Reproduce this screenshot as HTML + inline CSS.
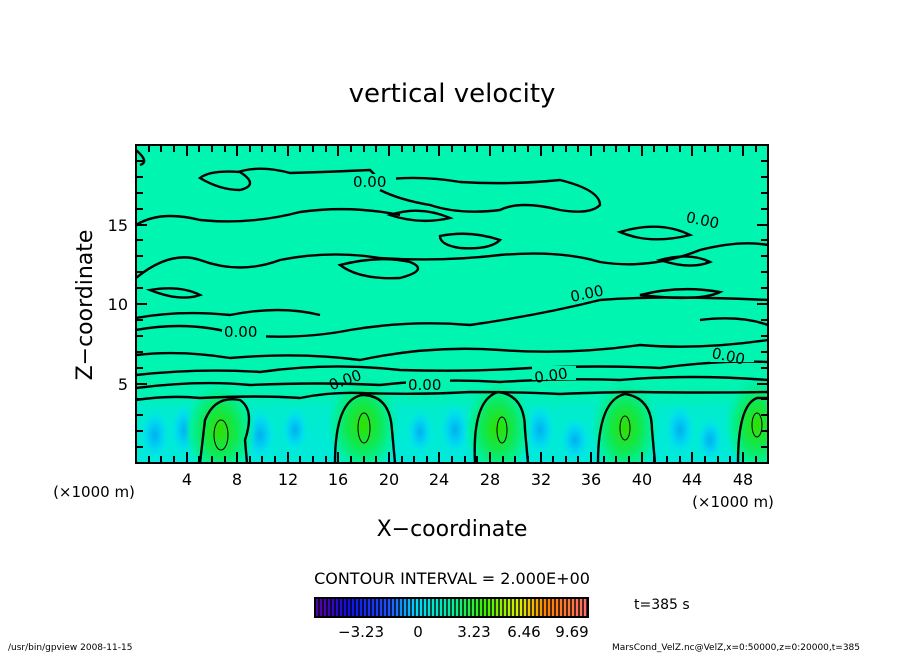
<!DOCTYPE html>
<html><head><style>
body{margin:0;background:#fff;}
svg{display:block;font-family:"DejaVu Sans","Liberation Sans",sans-serif;}
</style></head><body>
<svg width="904" height="654" viewBox="0 0 904 654" xmlns="http://www.w3.org/2000/svg">
<defs>
<radialGradient id="g" cx="50%" cy="50%" r="50%">
<stop offset="0" stop-color="#30e000"/><stop offset="0.45" stop-color="#10e850"/><stop offset="0.8" stop-color="#00f0a0"/><stop offset="1" stop-color="#00f0b0" stop-opacity="0"/>
</radialGradient>
<radialGradient id="b" cx="50%" cy="50%" r="50%">
<stop offset="0" stop-color="#00b0f0"/><stop offset="0.5" stop-color="#00d8f0"/><stop offset="1" stop-color="#00eee0" stop-opacity="0"/>
</radialGradient>
<linearGradient id="band" x1="0" y1="0" x2="0" y2="1">
<stop offset="0" stop-color="#00f0b0" stop-opacity="0"/><stop offset="0.3" stop-color="#00eccc"/><stop offset="1" stop-color="#00eadc"/>
</linearGradient>
<clipPath id="c"><rect x="136" y="145" width="632" height="318"/></clipPath>
</defs>
<text x="452" y="102" font-size="26" text-anchor="middle">vertical velocity</text>
<g clip-path="url(#c)">
<rect x="136" y="145" width="632" height="318" fill="#00f5b0"/>
<rect x="136" y="385" width="632" height="78" fill="url(#band)"/>
<ellipse cx="155" cy="435" rx="16" ry="28" fill="url(#b)"/>
<ellipse cx="185" cy="430" rx="16" ry="28" fill="url(#b)"/>
<ellipse cx="260" cy="435" rx="16" ry="28" fill="url(#b)"/>
<ellipse cx="295" cy="430" rx="14" ry="24" fill="url(#b)"/>
<ellipse cx="420" cy="432" rx="14" ry="24" fill="url(#b)"/>
<ellipse cx="455" cy="430" rx="16" ry="28" fill="url(#b)"/>
<ellipse cx="540" cy="430" rx="16" ry="28" fill="url(#b)"/>
<ellipse cx="575" cy="440" rx="16" ry="24" fill="url(#b)"/>
<ellipse cx="680" cy="430" rx="16" ry="28" fill="url(#b)"/>
<ellipse cx="710" cy="440" rx="14" ry="24" fill="url(#b)"/>
<ellipse cx="220" cy="430" rx="36" ry="50" fill="url(#g)"/>
<ellipse cx="363" cy="425" rx="36" ry="50" fill="url(#g)"/>
<ellipse cx="498" cy="428" rx="34" ry="50" fill="url(#g)"/>
<ellipse cx="625" cy="428" rx="34" ry="50" fill="url(#g)"/>
<ellipse cx="757" cy="425" rx="32" ry="50" fill="url(#g)"/>
<g fill="none" stroke="#000" stroke-width="2.4">
<path d="M200,463 L205,420 Q215,395 240,400 Q255,410 245,440 L247,463"/>
<path d="M335,463 Q335,400 362,395 Q390,395 392,430 L395,463"/>
<path d="M475,463 Q472,400 498,392 Q525,395 525,430 L528,463"/>
<path d="M598,463 Q598,400 625,394 Q652,398 652,430 L655,463"/>
<path d="M738,463 Q738,405 757,398 L768,398"/>
<path d="M136,400 Q170,395 200,398 Q260,395 300,398 Q330,392 360,393 Q420,395 470,392 Q520,392 560,394 Q610,392 640,392 Q700,393 768,392"/>
<path d="M136,388 Q200,380 250,385 Q320,382 380,385 Q440,378 500,382 Q560,378 620,380 Q690,374 768,380"/>
<path d="M136,375 Q200,368 260,372 Q330,362 400,370 Q470,372 530,368 Q600,365 660,368 Q720,360 768,362"/>
<path d="M136,355 Q180,350 230,358 Q300,352 360,360 Q430,345 500,350 Q570,355 640,345 Q700,350 768,340"/>
<path d="M136,330 Q190,320 240,335 Q300,340 350,330 Q410,320 470,325 Q540,315 600,300 Q660,295 768,300"/>
<path d="M136,318 Q180,310 230,315 Q280,305 320,315"/>
<path d="M136,278 Q170,250 200,260 Q240,275 280,260 Q330,250 380,258 Q440,262 500,255 Q560,250 600,262 Q650,270 700,250 Q740,240 768,245"/>
<path d="M136,225 Q160,210 200,220 Q250,225 300,212 Q350,205 400,215"/>
<path d="M136,150 Q150,162 140,165"/>
<path d="M238,172 Q260,165 290,173 Q330,172 370,170 L380,180 Q420,175 460,182 Q510,185 560,180 Q600,190 600,205 Q590,215 560,210 Q520,200 500,210 Q460,215 430,205 Q400,200 380,190"/>
<path d="M200,178 Q210,170 240,172 Q260,185 240,190 Q220,190 200,178Z"/>
<path d="M340,265 Q380,255 410,262 Q430,270 400,278 Q360,280 340,265Z"/>
<path d="M440,236 Q470,230 500,240 Q490,250 460,248 Q440,245 440,236Z"/>
<path d="M660,260 Q690,252 710,262 Q690,270 660,260Z"/>
<path d="M640,295 Q680,285 720,292 Q700,302 640,295Z"/>
<path d="M150,290 Q180,285 200,295 Q180,302 150,290Z"/>
<path d="M390,215 Q420,205 450,218 Q420,225 390,215Z"/>
<path d="M620,232 Q660,220 690,235 Q650,245 620,232Z"/>
<path d="M700,320 Q740,315 768,325"/>
</g>
<g stroke="#000" stroke-width="1" fill="none">
<ellipse cx="221" cy="435" rx="7" ry="15"/>
<ellipse cx="364" cy="428" rx="6" ry="15"/>
<ellipse cx="502" cy="430" rx="5" ry="13"/>
<ellipse cx="625" cy="428" rx="5" ry="12"/>
<ellipse cx="757" cy="425" rx="5" ry="12"/>
</g>
<g font-size="15" fill="#000">
<rect x="352" y="174" width="44" height="14" fill="#00f5b0"/><text x="353" y="187">0.00</text>
<rect x="684" y="212" width="44" height="14" fill="#00f5b0"/><text x="686" y="226" transform="rotate(12 706 220)">0.00</text>
<rect x="222" y="324" width="44" height="14" fill="#00f5b0"/><text x="224" y="337">0.00</text>
<rect x="568" y="284" width="44" height="14" fill="#00f5b0"/><text x="570" y="298" transform="rotate(-12 590 292)">0.00</text>
<rect x="710" y="348" width="44" height="14" fill="#00f5b0"/><text x="712" y="362" transform="rotate(12 732 355)">0.00</text>
<text x="328" y="384" transform="rotate(-20 348 378)">0.00</text>
<rect x="406" y="377" width="44" height="14" fill="#00f5b0"/><text x="408" y="390">0.00</text>
<rect x="532" y="366" width="44" height="14" fill="#00f5b0"/><text x="534" y="380" transform="rotate(-8 555 373)">0.00</text>
</g>
</g>
<rect x="136" y="145" width="632" height="318" fill="none" stroke="#000" stroke-width="2"/>
<g stroke="#000" stroke-width="2">
<path d="M149,463v-7M161,463v-7M174,463v-7M187,463v-11M199,463v-7M212,463v-7M225,463v-7M237,463v-11M250,463v-7M262,463v-7M275,463v-7M288,463v-11M300,463v-7M313,463v-7M326,463v-7M338,463v-11M351,463v-7M364,463v-7M376,463v-7M389,463v-11M402,463v-7M414,463v-7M427,463v-7M439,463v-11M452,463v-7M465,463v-7M477,463v-7M490,463v-11M503,463v-7M515,463v-7M528,463v-7M541,463v-11M553,463v-7M566,463v-7M578,463v-7M591,463v-11M604,463v-7M616,463v-7M629,463v-7M642,463v-11M654,463v-7M667,463v-7M680,463v-7M692,463v-11M705,463v-7M718,463v-7M730,463v-7M743,463v-11M756,463v-7"/>
<path d="M149,145v7M161,145v7M174,145v7M187,145v11M199,145v7M212,145v7M225,145v7M237,145v11M250,145v7M262,145v7M275,145v7M288,145v11M300,145v7M313,145v7M326,145v7M338,145v11M351,145v7M364,145v7M376,145v7M389,145v11M402,145v7M414,145v7M427,145v7M439,145v11M452,145v7M465,145v7M477,145v7M490,145v11M503,145v7M515,145v7M528,145v7M541,145v11M553,145v7M566,145v7M578,145v7M591,145v11M604,145v7M616,145v7M629,145v7M642,145v11M654,145v7M667,145v7M680,145v7M692,145v11M705,145v7M718,145v7M730,145v7M743,145v11M756,145v7"/>
<path d="M136,447h7M136,431h7M136,415h7M136,399h7M136,384h11M136,368h7M136,352h7M136,336h7M136,320h7M136,304h11M136,288h7M136,272h7M136,256h7M136,240h7M136,225h11M136,209h7M136,193h7M136,177h7M136,161h7"/>
<path d="M768,447h-7M768,431h-7M768,415h-7M768,399h-7M768,384h-11M768,368h-7M768,352h-7M768,336h-7M768,320h-7M768,304h-11M768,288h-7M768,272h-7M768,256h-7M768,240h-7M768,225h-11M768,209h-7M768,193h-7M768,177h-7M768,161h-7"/>
</g>
<g font-size="16" text-anchor="middle">
<text x="187" y="485">4</text><text x="237" y="485">8</text><text x="288" y="485">12</text><text x="338" y="485">16</text><text x="389" y="485">20</text><text x="439" y="485">24</text><text x="490" y="485">28</text><text x="541" y="485">32</text><text x="591" y="485">36</text><text x="642" y="485">40</text><text x="692" y="485">44</text><text x="743" y="485">48</text>
</g>
<g font-size="16" text-anchor="end">
<text x="128" y="390">5</text><text x="128" y="310">10</text><text x="128" y="231">15</text>
</g>
<text x="94" y="497" font-size="15" text-anchor="middle">(×1000 m)</text>
<text x="733" y="507" font-size="15" text-anchor="middle">(×1000 m)</text>
<text x="452" y="536" font-size="22" text-anchor="middle">X−coordinate</text>
<text x="92" y="305" font-size="22" text-anchor="middle" transform="rotate(-90 92 305)">Z−coordinate</text>
<text x="452" y="584" font-size="16" text-anchor="middle">CONTOUR INTERVAL = 2.000E+00</text>
<defs><linearGradient id="cb" x1="0" x2="1">
<stop offset="0" stop-color="#6000a0"/><stop offset="0.12" stop-color="#1010e0"/><stop offset="0.27" stop-color="#2050ff"/><stop offset="0.37" stop-color="#00d8ff"/><stop offset="0.5" stop-color="#00f0a0"/><stop offset="0.62" stop-color="#40f000"/><stop offset="0.75" stop-color="#e0f000"/><stop offset="0.85" stop-color="#ff8000"/><stop offset="1" stop-color="#ff7070"/>
</linearGradient>
<pattern id="stripes" width="4" height="20" patternUnits="userSpaceOnUse"><rect x="2" width="2" height="20" fill="#000"/></pattern></defs>
<rect x="315" y="598" width="273" height="19" fill="url(#cb)"/>
<rect x="315" y="598" width="273" height="19" fill="url(#stripes)" opacity="0.7"/>
<rect x="315" y="598" width="273" height="19" fill="none" stroke="#000" stroke-width="2"/>
<g font-size="15" text-anchor="middle">
<text x="361" y="637">−3.23</text><text x="418" y="637">0</text><text x="474" y="637">3.23</text><text x="524" y="637">6.46</text><text x="572" y="637">9.69</text>
</g>
<text x="634" y="609" font-size="14">t=385 s</text>
<text x="8" y="650" font-size="9">/usr/bin/gpview  2008-11-15</text>
<text x="860" y="650" font-size="9" text-anchor="end">MarsCond_VelZ.nc@VelZ,x=0:50000,z=0:20000,t=385</text>
</svg>
</body></html>
